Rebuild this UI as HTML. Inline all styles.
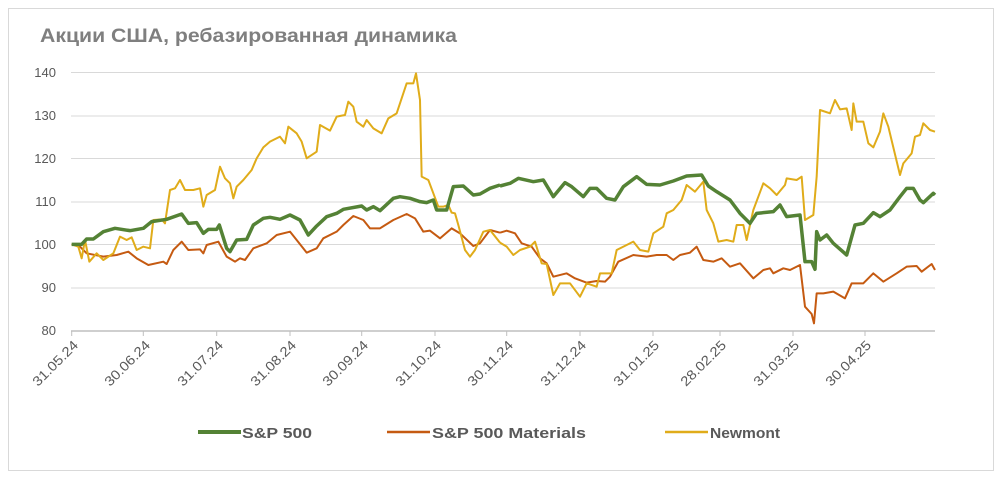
<!DOCTYPE html>
<html><head><meta charset="utf-8"><style>
body{margin:0;background:#fff;}
svg{display:block;font-family:"Liberation Sans",sans-serif;}
</style></head><body>
<svg width="1004" height="483" viewBox="0 0 1004 483">
<rect x="8.5" y="8.5" width="985" height="462" fill="#fff" stroke="#d9d9d9"/>
<text x="40" y="42" font-size="19" font-weight="bold" fill="#7f7f7f" textLength="417" lengthAdjust="spacingAndGlyphs">Акции США, ребазированная динамика</text>
<g stroke="#d9d9d9" stroke-width="1">
<line x1="71" x2="935" y1="72.5" y2="72.5"/><line x1="71" x2="935" y1="116" y2="116"/>
<line x1="71" x2="935" y1="158.5" y2="158.5"/><line x1="71" x2="935" y1="202" y2="202"/>
<line x1="71" x2="935" y1="244.5" y2="244.5"/><line x1="71" x2="935" y1="288" y2="288"/>
</g>
<line x1="71" x2="935" y1="331" y2="331" stroke="#bfbfbf" stroke-width="1.5"/>
<g stroke="#bfbfbf" stroke-width="1">
<line x1="71.7" x2="71.7" y1="331" y2="336"/><line x1="143.3" x2="143.3" y1="331" y2="336"/><line x1="216.7" x2="216.7" y1="331" y2="336"/><line x1="290" x2="290" y1="331" y2="336"/><line x1="361.7" x2="361.7" y1="331" y2="336"/><line x1="435" x2="435" y1="331" y2="336"/><line x1="506.7" x2="506.7" y1="331" y2="336"/><line x1="580" x2="580" y1="331" y2="336"/><line x1="653" x2="653" y1="331" y2="336"/><line x1="720" x2="720" y1="331" y2="336"/><line x1="793" x2="793" y1="331" y2="336"/><line x1="865" x2="865" y1="331" y2="336"/>
</g>
<g font-size="13" fill="#595959" text-anchor="end">
<text x="56" y="77">140</text><text x="56" y="120">130</text><text x="56" y="163">120</text><text x="56" y="206">110</text><text x="56" y="249">100</text><text x="56" y="292">90</text><text x="56" y="335">80</text>
</g>
<g font-size="13.5" fill="#595959" text-anchor="end">
<text transform="translate(79,346) rotate(-45)" textLength="58" lengthAdjust="spacingAndGlyphs">31.05.24</text>
<text transform="translate(151,346) rotate(-45)" textLength="58" lengthAdjust="spacingAndGlyphs">30.06.24</text>
<text transform="translate(224,346) rotate(-45)" textLength="58" lengthAdjust="spacingAndGlyphs">31.07.24</text>
<text transform="translate(297,346) rotate(-45)" textLength="58" lengthAdjust="spacingAndGlyphs">31.08.24</text>
<text transform="translate(369,346) rotate(-45)" textLength="58" lengthAdjust="spacingAndGlyphs">30.09.24</text>
<text transform="translate(442,346) rotate(-45)" textLength="58" lengthAdjust="spacingAndGlyphs">31.10.24</text>
<text transform="translate(514,346) rotate(-45)" textLength="58" lengthAdjust="spacingAndGlyphs">30.11.24</text>
<text transform="translate(587,346) rotate(-45)" textLength="58" lengthAdjust="spacingAndGlyphs">31.12.24</text>
<text transform="translate(660,346) rotate(-45)" textLength="58" lengthAdjust="spacingAndGlyphs">31.01.25</text>
<text transform="translate(727,346) rotate(-45)" textLength="58" lengthAdjust="spacingAndGlyphs">28.02.25</text>
<text transform="translate(800,346) rotate(-45)" textLength="58" lengthAdjust="spacingAndGlyphs">31.03.25</text>
<text transform="translate(872,346) rotate(-45)" textLength="58" lengthAdjust="spacingAndGlyphs">30.04.25</text>
</g>
<g fill="none" stroke-linejoin="round">
<g transform="translate(60,60) scale(0.33333)">
<polyline vector-effect="non-scaling-stroke" stroke="#c55a11" stroke-width="2" points="35,553 60,560 80,580 130,590 170,585 205,575 230,595 265,615 310,605 320,612 340,570 365,545 385,570 420,568 430,580 440,555 475,545 500,590 525,605 540,595 555,600 580,565 620,550 650,525 690,515 710,540 740,578 770,565 790,535 830,515 850,495 880,468 910,480 930,505 960,505 1000,480 1040,462 1065,475 1090,515 1110,512 1140,535 1175,505 1200,520 1240,558 1260,550 1290,510 1320,518"/>
<polyline vector-effect="non-scaling-stroke" stroke="#e0ac1a" stroke-width="2" points="35,553 55,560 65,595 75,540 88,605 110,580 130,600 160,580 180,530 200,540 215,532 230,570 250,560 270,565 280,480 305,478 315,490 330,390 345,385 360,360 375,390 400,390 420,385 430,440 440,405 465,390 480,320 495,355 510,370 520,415 530,380 550,360 575,330 590,295 610,262 630,245 660,230 675,250 685,200 710,220 725,245 740,295 770,275 780,195 810,212 830,170 855,165 865,125 880,140 890,185 910,200 920,180 940,205 965,220 985,175 1010,160 1030,100 1040,70 1060,70 1068,40 1080,120 1085,350 1105,360 1120,400 1135,440 1150,440 1165,435 1175,458 1185,460 1195,495 1215,570 1230,590 1245,570 1270,515 1290,510 1320,548"/>
<polyline vector-effect="non-scaling-stroke" stroke="#548235" stroke-width="3.5" points="35,553 65,553 80,537 100,537 130,515 165,505 210,512 250,505 275,485 320,478 365,462 385,490 410,488 430,520 445,508 470,508 478,495 500,565 510,575 530,540 560,538 580,495 610,475 630,472 660,478 690,465 720,480 745,525 770,498 800,470 830,460 850,448 905,438 920,450 940,440 960,452 1000,415 1020,410 1050,415 1080,425 1100,428 1120,420 1130,450 1160,450 1180,380 1210,378 1240,405 1260,402 1290,385 1320,375"/>
</g>
<g transform="translate(500,60) scale(0.33333)">
<polyline vector-effect="non-scaling-stroke" stroke="#c55a11" stroke-width="2" points="0,518 20,512 45,520 65,550 95,560 120,595 140,610 160,650 200,640 225,655 260,668 290,663 315,665 330,650 355,605 400,585 440,590 470,585 500,585 520,600 540,585 570,578 590,560 610,600 640,605 665,595 690,620 720,610 760,655 790,630 810,625 820,640 850,625 870,630 900,615 915,740 935,762 942,790 950,700 970,700 1000,695 1035,715 1055,670 1090,670 1120,640 1150,665 1190,640 1220,620 1250,618 1265,635 1295,612 1305,630"/>
<polyline vector-effect="non-scaling-stroke" stroke="#e0ac1a" stroke-width="2" points="0,548 20,560 40,585 60,570 90,560 105,545 125,610 140,612 160,705 180,670 210,670 240,710 260,670 290,680 300,640 335,640 350,570 380,555 400,545 420,570 445,575 460,520 490,500 500,460 520,450 545,420 560,375 585,395 610,365 620,450 640,490 655,545 680,540 700,545 710,495 730,495 740,540 760,450 790,370 810,385 830,405 855,375 860,355 890,360 905,350 915,480 940,465 950,350 960,150 990,160 1005,120 1020,148 1040,145 1055,210 1060,130 1070,185 1090,185 1105,250 1120,262 1140,215 1150,160 1165,200 1200,345 1210,310 1235,280 1245,230 1260,225 1270,190 1290,210 1305,215"/>
<polyline vector-effect="non-scaling-stroke" stroke="#548235" stroke-width="3.5" points="0,378 30,370 55,355 100,365 130,360 160,410 195,368 215,380 250,410 270,385 290,385 320,415 345,420 370,380 410,350 440,373 480,375 520,363 560,348 605,345 625,378 650,395 690,420 720,460 750,490 770,460 820,455 840,435 860,470 900,465 915,605 935,605 945,628 950,515 960,540 980,525 1000,550 1040,585 1065,495 1090,490 1120,458 1140,470 1170,450 1200,410 1220,385 1240,385 1260,420 1270,428 1300,400 1305,405"/>
</g>
</g>
<g font-size="15" font-weight="bold" fill="#595959">
<line x1="198" x2="241" y1="432" y2="432" stroke="#548235" stroke-width="4"/>
<text x="242" y="438" textLength="70" lengthAdjust="spacingAndGlyphs">S&amp;P 500</text>
<line x1="387" x2="430" y1="432" y2="432" stroke="#c55a11" stroke-width="2.5"/>
<text x="432" y="438" textLength="154" lengthAdjust="spacingAndGlyphs">S&amp;P 500 Materials</text>
<line x1="665" x2="708" y1="432" y2="432" stroke="#e0ac1a" stroke-width="2.5"/>
<text x="710" y="438" textLength="70" lengthAdjust="spacingAndGlyphs">Newmont</text>
</g>
</svg>
</body></html>
